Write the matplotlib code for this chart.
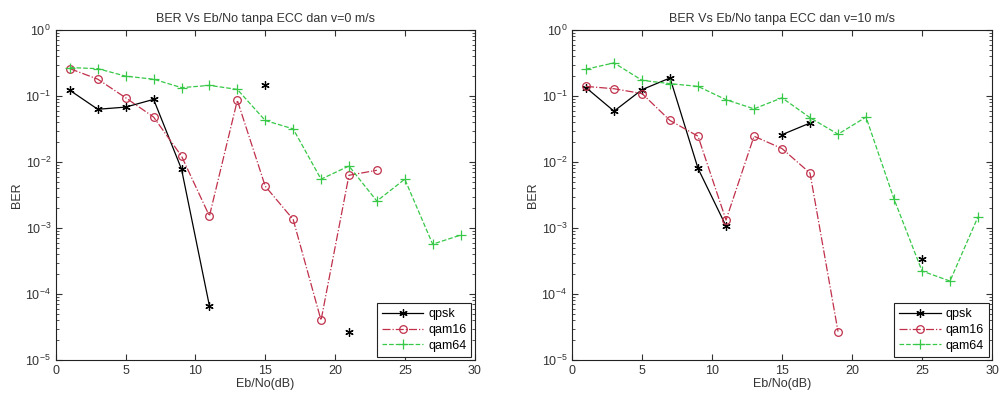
import numpy as np
import matplotlib
matplotlib.use("Agg")
import matplotlib.pyplot as plt
from matplotlib.ticker import LogLocator, NullFormatter

plt.rcParams['font.family'] = ['Liberation Sans', 'DejaVu Sans']

ebno = [1, 3, 5, 7, 9, 11, 13, 15, 17, 19, 21, 23, 25, 27, 29]
nan = np.nan

# v = 0 m/s
qpsk_v0 = [0.122, 0.063, 0.068, 0.089, 0.0078, 6.6e-5, nan, 0.147, nan, nan, 2.7e-5, nan, nan, nan, nan]
qam16_v0 = [0.26, 0.18, 0.094, 0.048, 0.0123, 0.00152, 0.086, 0.0043, 0.00135, 4.0e-5, 0.0063, 0.0075, nan, nan, nan]
qam64_v0 = [0.27, 0.26, 0.20, 0.18, 0.134, 0.145, 0.126, 0.0426, 0.0318, 0.0055, 0.0087, 0.00256, 0.0055, 5.7e-4, 7.8e-4]

# v = 10 m/s
qpsk_v10 = [0.134, 0.059, 0.125, 0.188, 0.008, 0.00107, nan, 0.026, 0.039, nan, nan, nan, 3.4e-4, nan, nan]
qam16_v10 = [0.14, 0.129, 0.109, 0.0426, 0.0246, 0.00132, 0.0246, 0.016, 0.0068, 2.7e-5, nan, nan, nan, nan, nan]
qam64_v10 = [0.255, 0.318, 0.173, 0.154, 0.140, 0.088, 0.064, 0.094, 0.047, 0.0264, 0.048, 0.00275, 2.23e-4, 1.57e-4, 0.00148]

titles = ["BER Vs Eb/No tanpa ECC dan v=0 m/s", "BER Vs Eb/No tanpa ECC dan v=10 m/s"]
series_labels = ["qpsk", "qam16", "qam64"]

fig = plt.figure(figsize=(9.99, 3.98), dpi=100)
ax1 = fig.add_axes([0.056, 0.0955, 0.419, 0.829])
ax2 = fig.add_axes([0.5726, 0.0955, 0.4204, 0.829])

red = '#c0304a'
green = '#38c848'
fs = 9
txt = '#333333'
asterisk = (6, 2, 0)

for ax, data, title in [(ax1, (qpsk_v0, qam16_v0, qam64_v0), titles[0]),
                        (ax2, (qpsk_v10, qam16_v10, qam64_v10), titles[1])]:
    ax.semilogy(ebno, data[0], color='black', linestyle='-', marker=asterisk, markersize=6,
                markeredgewidth=0.9, linewidth=0.9, label=series_labels[0])
    ax.semilogy(ebno, data[1], color=red, linestyle='-.', marker='o', markersize=5.5, markerfacecolor='none',
                markeredgewidth=0.9, linewidth=0.9, label=series_labels[1])
    ax.semilogy(ebno, data[2], color=green, linestyle='--', marker='+', markersize=6.5,
                markeredgewidth=0.9, linewidth=0.9, label=series_labels[2])
    ax.set_xlim(0, 30)
    ax.set_ylim(1e-5, 1)
    ax.set_xticks([0, 5, 10, 15, 20, 25, 30])
    ax.yaxis.set_major_locator(LogLocator(base=10, numticks=10))
    ax.yaxis.set_minor_locator(LogLocator(base=10, subs=np.arange(2, 10), numticks=10))
    ax.yaxis.set_minor_formatter(NullFormatter())
    ax.tick_params(which='both', direction='in', top=True, right=True, labelsize=fs, colors='#333333', labelcolor=txt)
    ax.tick_params(which='major', length=4)
    ax.tick_params(which='minor', length=2)
    ax.set_title(title, fontsize=fs, color=txt, pad=6)
    ax.set_xlabel("Eb/No(dB)", fontsize=fs, color=txt, labelpad=1)
    ax.set_ylabel("BER", fontsize=fs, color=txt, labelpad=2)
    for sp in ax.spines.values():
        sp.set_linewidth(0.8)
        sp.set_color('#222222')
    leg = ax.legend(loc='lower right', fontsize=fs, fancybox=False, edgecolor='#222222', framealpha=1,
                    handlelength=3.3, borderaxespad=0.25, labelspacing=0.3, handletextpad=0.4,
                    borderpad=0.4)
    leg.get_frame().set_linewidth(0.8)

fig.savefig("out.png", dpi=100)
